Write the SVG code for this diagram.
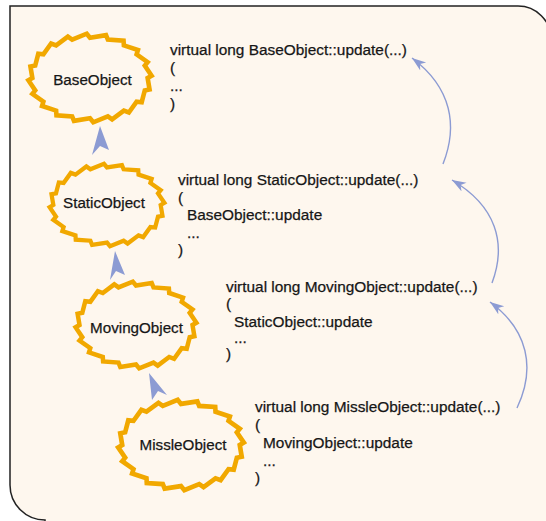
<svg xmlns="http://www.w3.org/2000/svg" xmlns:xlink="http://www.w3.org/1999/xlink" width="546" height="521" viewBox="0 0 546 521">
<style>
.frame{fill:#FEF7EE;stroke:#222;stroke-width:1.5}
.zz{fill:none;stroke:#F1A800;stroke-width:4.5;stroke-linejoin:miter}
.lbl{font-family:"Liberation Sans",Arial,sans-serif;font-size:15.2px;fill:#161616;stroke:#161616;stroke-width:0.25;text-anchor:middle}
.code{font-family:"Liberation Sans",Arial,sans-serif;font-size:15.4px;fill:#161616;stroke:#161616;stroke-width:0.25}
.inh{fill:#8C9BD3}
.conn{fill:none;stroke:#8C9BD3;stroke-width:1.4}
</style>
<defs>
<path id="zz" class="zz" d="M56.5,0 L58.4,11.3 L53.7,12.2 L50.7,23.7 L45.7,23.2 L38.1,33.8 L33.2,32 L21.7,40.6 L17.5,37.6 L3.2,43.4 L0,39.5 L-15.7,42 L-17.5,37.6 L-32.9,36.5 L-33.2,32 L-47,27.4 L-45.7,23.2 L-56.5,15.6 L-53.7,12.2 L-60.4,2.3 L-56.5,0 L-58.4,-11.3 L-53.7,-12.2 L-50.7,-23.7 L-45.7,-23.2 L-38.1,-33.8 L-33.2,-32 L-21.7,-40.6 L-17.5,-37.6 L-3.2,-43.4 L0,-39.5 L15.7,-42 L17.5,-37.6 L32.9,-36.5 L33.2,-32 L47,-27.4 L45.7,-23.2 L56.5,-15.6 L53.7,-12.2 L60.4,-2.3 Z"/>
<marker id="ah" markerUnits="userSpaceOnUse" markerWidth="16" markerHeight="12" refX="14" refY="5" orient="auto">
<path d="M0,0 L14,5 L0,10 L4,5 Z" fill="#8C9BD3"/>
</marker>
</defs>
<path class="frame" d="M10,6 H518 A33,33 0 0 1 551,39 V560 H45 V520 A35,35 0 0 1 10,485 Z"/>

<g id="BaseObject">
<use xlink:href="#zz" transform="translate(90,78) scale(1.02)"/>
<text class="lbl" x="92.5" y="85">BaseObject</text>
</g>
<g id="StaticObject">
<use xlink:href="#zz" transform="translate(107,205) scale(0.95)"/>
<text class="lbl" x="104" y="208">StaticObject</text>
</g>
<g id="MovingObject">
<use xlink:href="#zz" transform="translate(136,325) scale(1.0)"/>
<text class="lbl" x="136.5" y="333">MovingObject</text>
</g>
<g id="MissleObject">
<use xlink:href="#zz" transform="translate(181,445) scale(1.04)"/>
<text class="lbl" x="183" y="450">MissleObject</text>
</g>

<g id="code-base" class="code">
<text x="170" y="55">virtual long BaseObject::update(...)</text>
<text x="170" y="73">(</text>
<text x="170" y="91">...</text>
<text x="170" y="109">)</text>
</g>
<g id="code-static" class="code">
<text x="178" y="185">virtual long StaticObject::update(...)</text>
<text x="178" y="202.5">(</text>
<text x="187" y="220">BaseObject::update</text>
<text x="187" y="237.5">...</text>
<text x="178" y="255">)</text>
</g>
<g id="code-moving" class="code">
<text x="226" y="292">virtual long MovingObject::update(...)</text>
<text x="226" y="309">(</text>
<text x="234" y="327">StaticObject::update</text>
<text x="234" y="343">...</text>
<text x="226" y="359">)</text>
</g>
<g id="code-missle" class="code">
<text x="255" y="412">virtual long MissleObject::update(...)</text>
<text x="255" y="430">(</text>
<text x="263" y="448">MovingObject::update</text>
<text x="263" y="466">...</text>
<text x="255" y="483">)</text>
</g>

<g id="connectors">
<polygon class="inh" points="100,126 109,150 100,146 92,155"/>
<polygon class="inh" points="115,251 125,275 116,271 110,280"/>
<polygon class="inh" points="149,373 167,395 158,391 152,400"/>
<path class="conn" marker-end="url(#ah)" d="M443,164 C458,126 452,88 412,58"/>
<path class="conn" marker-end="url(#ah)" d="M492,283 C507,243 496,206 452,180"/>
<path class="conn" marker-end="url(#ah)" d="M517,408 C536,368 528,330 490,302"/>
</g>
</svg>
